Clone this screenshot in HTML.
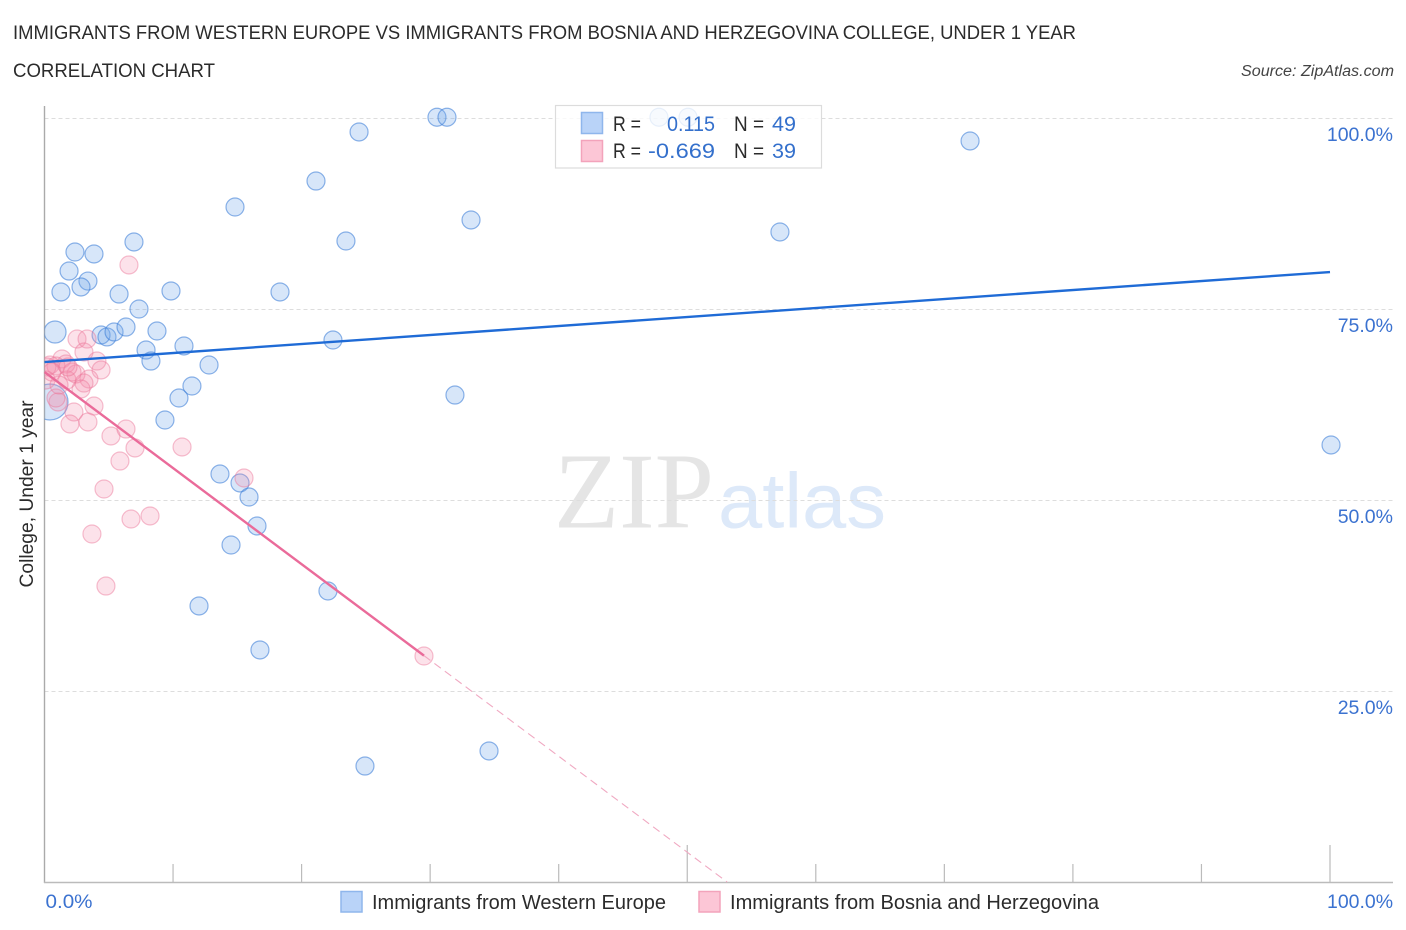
<!DOCTYPE html>
<html lang="en">
<head>
<meta charset="utf-8">
<title>Correlation Chart</title>
<style>
html,body{margin:0;padding:0;background:#fff;}
svg{display:block;font-family:"Liberation Sans",sans-serif;}
</style>
</head>
<body>
<svg id="chart" xmlns="http://www.w3.org/2000/svg" width="1406" height="930" viewBox="0 0 1406 930">
  <defs><clipPath id="plot-clip"><rect x="44.5" y="100" width="1300" height="782.5"/></clipPath></defs>
  <text x="13" y="39" font-size="19" fill="#2b2b2b" textLength="1063" lengthAdjust="spacingAndGlyphs">IMMIGRANTS FROM WESTERN EUROPE VS IMMIGRANTS FROM BOSNIA AND HERZEGOVINA COLLEGE, UNDER 1 YEAR</text>
  <text x="13" y="77" font-size="19" fill="#2b2b2b" textLength="202" lengthAdjust="spacingAndGlyphs">CORRELATION CHART</text>
  <text x="1394" y="76" font-size="15.5" font-style="italic" fill="#444" text-anchor="end" textLength="153" lengthAdjust="spacingAndGlyphs">Source: ZipAtlas.com</text>
  <g>
    <text x="554" y="527.5" font-family="'Liberation Serif',serif" font-size="108" fill="#e5e5e5" textLength="160" lengthAdjust="spacingAndGlyphs">ZIP</text>
    <text x="718" y="527.5" font-size="78" fill="#dde9f9" textLength="168" lengthAdjust="spacingAndGlyphs">atlas</text>
  </g>
  <g id="grid"></g>
  <g id="axes"></g>
  <g id="points" clip-path="url(#plot-clip)"></g>
  <g id="trends"></g>
  <g>
    <rect x="555.5" y="105.5" width="266" height="62.5" fill="#fff" fill-opacity="0.8" stroke="#dcdcdc" stroke-width="1.2"/>
    <rect x="581.5" y="112.5" width="21" height="21" fill="#b9d3f8" stroke="#8fb6ec" stroke-width="1.5"/>
    <rect x="581.5" y="140.5" width="21" height="21" fill="#fcc6d6" stroke="#f3a3bb" stroke-width="1.5"/>
    <g font-size="21" fill="#2b2b2b">
      <text x="613" y="131" textLength="28" lengthAdjust="spacingAndGlyphs">R =</text>
      <text x="734" y="131" textLength="30" lengthAdjust="spacingAndGlyphs">N =</text>
      <text x="613" y="158" textLength="28" lengthAdjust="spacingAndGlyphs">R =</text>
      <text x="734" y="158" textLength="30" lengthAdjust="spacingAndGlyphs">N =</text>
    </g>
    <g font-size="21.5" fill="#3470cc">
      <text x="667" y="131" textLength="48" lengthAdjust="spacingAndGlyphs">0.115</text>
      <text x="772" y="131" textLength="24" lengthAdjust="spacingAndGlyphs">49</text>
      <text x="648" y="158" textLength="67" lengthAdjust="spacingAndGlyphs">-0.669</text>
      <text x="772" y="158" textLength="24" lengthAdjust="spacingAndGlyphs">39</text>
    </g>
  </g>
  <text transform="translate(33,494) rotate(-90)" font-size="19" fill="#2b2b2b" text-anchor="middle" textLength="187" lengthAdjust="spacingAndGlyphs">College, Under 1 year</text>
  <g>
    <rect x="341" y="891.5" width="21" height="20.5" fill="#b9d3f8" stroke="#8fb6ec" stroke-width="1.5"/>
    <text x="372" y="909" font-size="20" fill="#2b2b2b" textLength="294" lengthAdjust="spacingAndGlyphs">Immigrants from Western Europe</text>
    <rect x="699" y="891.5" width="21" height="20.5" fill="#fcc6d6" stroke="#f3a3bb" stroke-width="1.5"/>
    <text x="730" y="909" font-size="20" fill="#2b2b2b" textLength="369" lengthAdjust="spacingAndGlyphs">Immigrants from Bosnia and Herzegovina</text>
  </g>
</svg>
<script>
const yTickValues = [25, 50, 75, 100];
const yTickLabels = ['25.0%', '50.0%', '75.0%', '100.0%'];
const xTickValues = [0, 10, 20, 30, 40, 50, 60, 70, 80, 90, 100];
const xEndValues = [0, 100];
const xEndLabels = ['0.0%', '100.0%'];

const blueX = [0.82,0.43,1.28,2.37,3.85,1.91,3.38,2.84,5.80,6.96,7.35,9.84,4.40,4.86,5.41,6.34,8.75,7.90,8.28,10.85,12.80,11.47,10.46,9.37,13.65,15.21,15.91,16.53,14.51,12.02,16.76,22.05,24.93,34.58,31.93,22.44,18.32,14.82,21.12,23.45,24.47,30.53,31.31,33.18,47.80,50.06,57.21,72.00,100.08];
const blueY = [71.99,62.83,77.23,82.46,82.20,79.97,78.66,77.88,76.96,83.77,75.00,77.36,71.60,71.34,71.99,72.64,72.12,69.63,68.19,70.16,67.67,64.92,63.35,60.47,53.40,52.23,50.39,46.60,44.11,36.13,30.37,38.09,15.18,17.15,63.74,70.94,77.23,88.35,91.75,83.90,98.17,100.1,100.1,86.65,100.1,100.1,85.08,96.99,57.20];
const blueSize = [2.4,6,1,1,1,1,1,1,1,1,1,1,1,1,1,1,1,1,1,1,1,1,1,1,1,1,1,1,1,1,1,1,1,1,1,1,1,1,1,1,1,1,1,1,1,1,1,1,1];

const pinkX = [6.57,2.53,3.31,3.07,4.08,4.40,1.36,1.67,0.43,0.89,2.45,3.46,3.07,2.84,1.75,1.05,0.89,3.85,2.29,3.38,1.98,5.17,6.34,7.04,10.70,5.87,4.63,6.73,8.21,3.69,4.78,15.52,29.52,0.19,0.12,0.58,2.14,1.13,1.83];
const pinkY = [80.76,71.07,71.07,69.37,68.19,67.02,68.46,67.80,67.67,67.54,66.49,65.84,65.31,64.53,65.71,62.83,63.35,62.30,61.52,60.21,59.95,58.38,59.29,56.81,56.94,55.10,51.44,47.51,47.91,45.55,38.74,52.88,29.58,67.41,65.71,66.75,66.75,65.05,67.41];

const blueTrendX = [0, 100];
const blueTrendY = [68.06, 79.84];
const pinkTrendX = [0, 29.52];
const pinkTrendY = [66.75, 29.63];
const pinkDashX = [29.52, 53.1];
const pinkDashY = [29.63, 0];

const NS = 'http://www.w3.org/2000/svg';
const sx = v => 44.5 + v * 12.855;
const sy = v => 882 - v * 7.64;

function mk(parent, tag, attrs) {
  const el = document.createElementNS(NS, tag);
  for (const k in attrs) el.setAttribute(k, attrs[k]);
  parent.appendChild(el);
  return el;
}

const grid = document.getElementById('grid');
const axes = document.getElementById('axes');
const points = document.getElementById('points');
const trends = document.getElementById('trends');

yTickValues.forEach((v, i) => {
  const gl = mk(grid, 'line', {x1: 44.5, x2: 1393, y1: sy(v) + 0.5, y2: sy(v) + 0.5, stroke: '#dddddd', 'stroke-width': 1, 'stroke-dasharray': '4 3'});
  
  
  const t = mk(axes, 'text', {x: 1393, y: sy(v) + 23, 'font-size': 19.5, fill: '#3b72d0', 'text-anchor': 'end'});
  
  
  t.textContent = yTickLabels[i];
});

const yAxis = mk(axes, 'line', {x1: 44.5, x2: 44.5, y1: 106, y2: 883, stroke: '#aaaaaa', 'stroke-width': 1.4});


const xAxis = mk(axes, 'line', {x1: 44, x2: 1393, y1: 882.5, y2: 882.5, stroke: '#bbbbbb', 'stroke-width': 1.4});



xTickValues.forEach(v => {
  if (v === 0) return;
  const top = (v === 50 || v === 100) ? 845 : 864;
  const tick = mk(axes, 'line', {x1: sx(v), x2: sx(v), y1: top, y2: 882, stroke: '#bbbbbb', 'stroke-width': 1.2});
  
  
});

xEndValues.forEach((v, i) => {
  const t = mk(axes, 'text', {x: i === 0 ? sx(v) + 1 : 1327, y: 908, 'font-size': 19.5, fill: '#3b72d0', textLength: i === 0 ? 47 : 66, lengthAdjust: 'spacingAndGlyphs'});
  
  
  t.textContent = xEndLabels[i];
});

blueX.forEach((v, i) => {
  const c = mk(points, 'circle', {cx: sx(v), cy: sy(blueY[i]), r: blueSize[i] > 5 ? 18 : (blueSize[i] > 2 ? 11 : 9), fill: 'rgba(110,165,235,0.28)', stroke: 'rgba(60,125,215,0.58)', 'stroke-width': 1.2});
  
  
});
pinkX.forEach((v, i) => {
  const c = mk(points, 'circle', {cx: sx(v), cy: sy(pinkY[i]), r: 9, fill: 'rgba(245,140,170,0.25)', stroke: 'rgba(235,115,150,0.45)', 'stroke-width': 1.2});
  
  
});

const bt = mk(trends, 'line', {x1: sx(blueTrendX[0]), y1: sy(blueTrendY[0]), x2: sx(blueTrendX[1]), y2: sy(blueTrendY[1]), stroke: '#1f6bd6', 'stroke-width': 2.4});


const pt = mk(trends, 'line', {x1: sx(pinkTrendX[0]), y1: sy(pinkTrendY[0]), x2: sx(pinkTrendX[1]), y2: sy(pinkTrendY[1]), stroke: '#ea6b9a', 'stroke-width': 2.4});


const pd = mk(trends, 'line', {x1: sx(pinkDashX[0]), y1: sy(pinkDashY[0]), x2: sx(pinkDashX[1]), y2: sy(pinkDashY[1]), stroke: '#f0a9c2', 'stroke-width': 1.1, 'stroke-dasharray': '8 5'});


</script>
</body>
</html>
